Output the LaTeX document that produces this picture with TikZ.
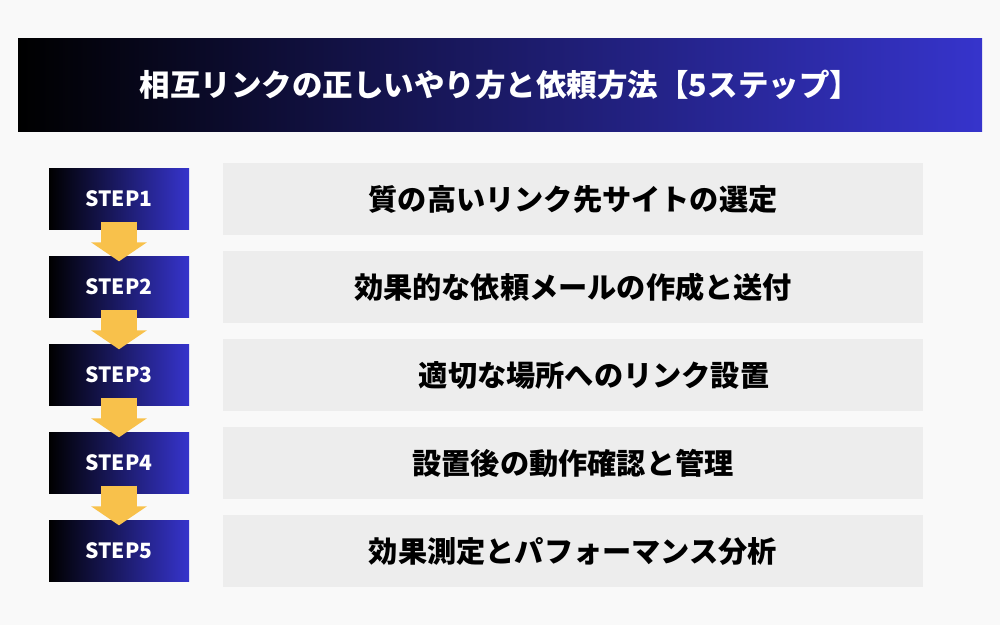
\documentclass[tikz,border=0pt]{standalone}
\usepackage{fontspec}
\setmainfont{Noto Sans CJK JP}
\usepackage{tikz}
\usetikzlibrary{arrows.meta,positioning}
\definecolor{navyend}{HTML}{3634CC}
\definecolor{arrowgold}{HTML}{F8C14B}
\definecolor{rowgrey}{HTML}{EDEDED}
\definecolor{pagebg}{HTML}{F9F9F9}
\tikzstyle{titlebar} = [rectangle, left color=black, right color=navyend, text=white,
    font=\bfseries\fontsize{30.5}{34}\selectfont, minimum width=964pt, minimum height=93pt, inner sep=0pt]
\tikzstyle{stepbox} = [rectangle, left color=black, right color=navyend, text=white,
    font=\bfseries\fontsize{21}{24}\selectfont, minimum width=140pt, minimum height=61pt, inner sep=0pt]
\tikzstyle{rowbox} = [rectangle, fill=rowgrey, minimum width=700pt, minimum height=72pt, inner sep=0pt]
\tikzstyle{rowtext} = [text=black, font=\bfseries\fontsize{29.2}{32}\selectfont, inner sep=0pt]
\tikzstyle{line} = [draw=arrowgold, line width=36pt, -{Triangle[length=19pt,width=55pt]}]

\begin{document}
\begin{tikzpicture}[x=1pt, y=-1pt]

% Page
\fill[pagebg] (0,0) rectangle (1000,625);
\useasboundingbox (0,0) rectangle (1000,625);

% Title bar
\node[titlebar] (title) at (500,84.5) {相互リンクの正しいやり方と依頼方法【5ステップ】};

% Grey rows
\node[rowbox] (r1) at (573,199) {};
\node[rowbox] (r2) at (573,287) {};
\node[rowbox] (r3) at (573,375) {};
\node[rowbox] (r4) at (573,463) {};
\node[rowbox] (r5) at (573,551) {};

% Row texts
\node[rowtext] (t1) at (r1) {質の高いリンク先サイトの選定};
\node[rowtext] (t2) at (r2) {効果的な依頼メールの作成と送付};
\node[rowtext, xshift=21pt] (t3) at (r3) {適切な場所へのリンク設置};
\node[rowtext] (t4) at (r4) {設置後の動作確認と管理};
\node[rowtext] (t5) at (r5) {効果測定とパフォーマンス分析};

% Step nodes
\node[stepbox] (s1) at (119,199) {STEP1};
\node[stepbox] (s2) at (119,287) {STEP2};
\node[stepbox] (s3) at (119,375) {STEP3};
\node[stepbox] (s4) at (119,463) {STEP4};
\node[stepbox] (s5) at (119,551) {STEP5};

% Arrows
\draw[line] ([yshift=8pt]s1.south) -- ([yshift=-5pt]s2.north);
\draw[line] ([yshift=8pt]s2.south) -- ([yshift=-5pt]s3.north);
\draw[line] ([yshift=8pt]s3.south) -- ([yshift=-5pt]s4.north);
\draw[line] ([yshift=8pt]s4.south) -- ([yshift=-5pt]s5.north);

\end{tikzpicture}
\end{document}
